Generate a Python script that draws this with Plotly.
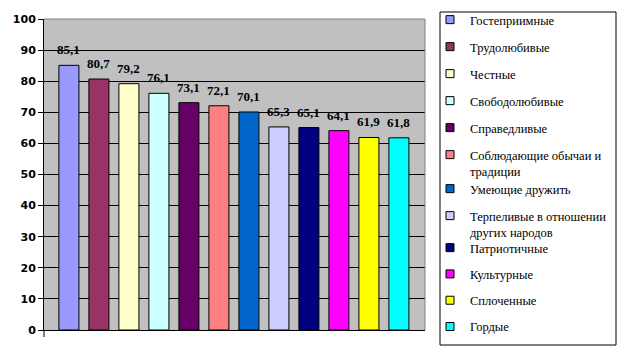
import plotly.graph_objects as go

categories = ["Гостеприимные", "Трудолюбивые", "Честные", "Свободолюбивые", "Справедливые",
              "Соблюдающие обычаи и<br>традиции", "Умеющие дружить",
              "Терпеливые в отношении<br>других народов", "Патриотичные", "Культурные",
              "Сплоченные", "Гордые"]
values = [85.1, 80.7, 79.2, 76.1, 73.1, 72.1, 70.1, 65.3, 65.1, 64.1, 61.9, 61.8]
colors = ["#9999FF", "#993366", "#FFFFCC", "#CCFFFF", "#660066", "#FF8080",
          "#0066CC", "#CCCCFF", "#000080", "#FF00FF", "#FFFF00", "#00FFFF"]
y_ticks = list(range(0, 101, 10))

W, H = 624, 360
L, R, T, B = 44, 425, 19, 330
SERIF = "Times New Roman"
LEG_FONT = 12.5

def px_x(p):
    return (p - L) / (R - L)

def px_y(p):
    return (B - p) / (B - T)

# which legend block each entry goes in (to keep Excel-like fixed spacing)
legend_of = ["legend"] * 6 + ["legend2"] * 2 + ["legend3"] * 4

fig = go.Figure()
for i, (name, v, c) in enumerate(zip(categories, values, colors)):
    fig.add_trace(go.Bar(
        x=[i], y=[v], name=name, width=0.667,
        marker=dict(color=c, line=dict(color="black", width=1)),
        showlegend=False, hoverinfo="skip",
    ))
for i, (name, c) in enumerate(zip(categories, colors)):
    fig.add_trace(go.Scatter(
        x=[None], y=[None], name=name, mode="markers",
        marker=dict(symbol="square", size=8, color=c, line=dict(color="black", width=1)),
        legendgroup=str(i), legend=legend_of[i], hoverinfo="skip",
    ))

annotations = []
for i, v in enumerate(values):
    annotations.append(dict(
        x=i, y=v, xref="x", yref="y", text=f"{v:.1f}".replace(".", ","),
        showarrow=False, yanchor="bottom", yshift=6,
        font=dict(family=SERIF, size=13, color="black", weight="bold"),
    ))

shapes = [
    dict(type="line", xref="paper", yref="paper", x0=0, x1=1, y0=1, y1=1,
         line=dict(color="#808080", width=1)),
    dict(type="line", xref="paper", yref="paper", x0=1, x1=1, y0=0, y1=1,
         line=dict(color="#808080", width=1)),
    dict(type="line", xref="paper", yref="paper", x0=0, x1=0, y0=0, y1=px_y(337),
         line=dict(color="black", width=1)),
    dict(type="rect", xref="paper", yref="paper", x0=px_x(440), x1=px_x(616),
         y0=px_y(345), y1=px_y(12), line=dict(color="black", width=1),
         fillcolor="white", layer="below"),
]

def leg(top_center_px, gap):
    return dict(
        x=px_x(430), y=px_y(top_center_px - 15), xanchor="left", yanchor="top",
        font=dict(family=SERIF, size=LEG_FONT, color="black"),
        bgcolor="rgba(0,0,0,0)", borderwidth=0,
        tracegroupgap=gap, valign="top", itemwidth=30,
        traceorder="grouped", maxheight=350,
    )

fig.update_layout(
    width=W, height=H,
    margin=dict(l=L, r=W - R, t=T, b=H - B, pad=0, autoexpand=False),
    paper_bgcolor="white", plot_bgcolor="#C0C0C0",
    barmode="overlay",
    showlegend=True,
    legend=leg(20, 7.75), legend2=leg(189, 7.75), legend3=leg(248, 7.05),
    annotations=annotations,
    shapes=shapes,
    xaxis=dict(
        range=[-0.83, 11.87], showticklabels=False, showgrid=False,
        showline=True, linecolor="black", linewidth=1, ticks="", zeroline=False,
        fixedrange=True,
    ),
    yaxis=dict(
        range=[0, 100], tickvals=y_ticks, ticks="outside", ticklen=5,
        tickcolor="black", showgrid=True, gridcolor="black", gridwidth=1,
        showline=True, linecolor="black", linewidth=1, zeroline=False,
        tickfont=dict(family="DejaVu Sans", size=11, color="black", weight="bold"),
        fixedrange=True,
    ),
)

fig.write_html("out.html", config={"displayModeBar": False},
               post_script="document.body.style.margin='0';")
